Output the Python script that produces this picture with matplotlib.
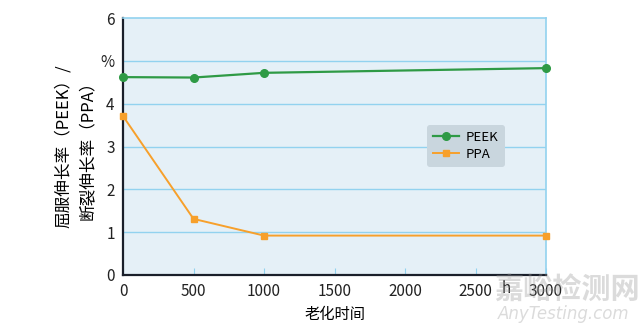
import matplotlib
matplotlib.use("Agg")
import matplotlib.pyplot as plt

plt.rcParams['font.family'] = ['Noto Sans CJK SC', 'DejaVu Sans']

hours = [0, 500, 1000, 3000]
peek = [4.62, 4.61, 4.72, 4.83]
ppa = [3.71, 1.31, 0.92, 0.92]
yticks = [0, 1, 2, 3, 4, 5, 6]
ytick_labels = ['0', '1', '2', '3', '4', '%', '6']
xticks = [0, 500, 1000, 1500, 2000, 2500, 3000]
xtick_labels = ['0', '500', '1000', '1500', '2000', '2500', '3000']

fig = plt.figure(figsize=(6.42, 3.31), dpi=100)
ax = fig.add_axes([0.1916, 0.1692, 0.6589, 0.7764])
ax.set_facecolor('#e5f0f7')

grid_c = '#92d2ef'
for y in yticks[1:-1]:
    ax.axhline(y, color=grid_c, lw=1.0, zorder=1)

ax.plot(hours, peek, color='#2e9a45', lw=1.6, marker='o', ms=5.5, label='PEEK', zorder=3, clip_on=False)
ax.plot(hours, ppa, color='#f7a02b', lw=1.4, marker='s', ms=5, label='PPA', zorder=3, clip_on=False)

ax.set_xlim(0, 3000)
ax.set_ylim(0, 6)
ax.set_yticks(yticks)
ax.set_yticklabels(ytick_labels, fontsize=11)
ax.set_xticks(xticks)
ax.set_xticklabels(xtick_labels, fontsize=11)
ax.tick_params(axis='y', length=0, pad=6, colors='#222222')
ax.tick_params(axis='x', direction='in', length=5, pad=6, colors='#222222')
ax.tick_params(axis='x', color=grid_c)

for s in ['left', 'bottom']:
    ax.spines[s].set_color('#1a1f2a')
    ax.spines[s].set_linewidth(1.6)
for s in ['top', 'right']:
    ax.spines[s].set_color(grid_c)
    ax.spines[s].set_linewidth(1.2)

ax.text(2720, -0.12, 'h', transform=ax.transData, ha='center', va='top', fontsize=11, color='#222222')

ax.set_xlabel('老化时间', fontsize=11, labelpad=4)
ax.set_ylabel('屈服伸长率（PEEK）/\n断裂伸长率（PPA）', fontsize=12, linespacing=1.55, labelpad=3)

leg = ax.legend(loc='upper left', bbox_to_anchor=(0.719, 0.584), fontsize=9.5, frameon=True,
                fancybox=True, handlelength=2.0, borderpad=0.45, labelspacing=0.3,
                handletextpad=0.5, borderaxespad=0)
leg.get_frame().set_facecolor('#c9d6de')
leg.get_frame().set_edgecolor('none')
leg.get_frame().set_alpha(1)

fig.text(0.997, 0.08, '嘉峪检测网', ha='right', va='bottom', fontsize=21, color='#9a9a9a', alpha=0.35, fontweight='bold')
fig.text(0.98, 0.025, 'AnyTesting.com', ha='right', va='bottom', fontsize=12, color='#9a9a9a', alpha=0.35, style='italic', family='DejaVu Sans')

fig.savefig('out.png', dpi=100)
